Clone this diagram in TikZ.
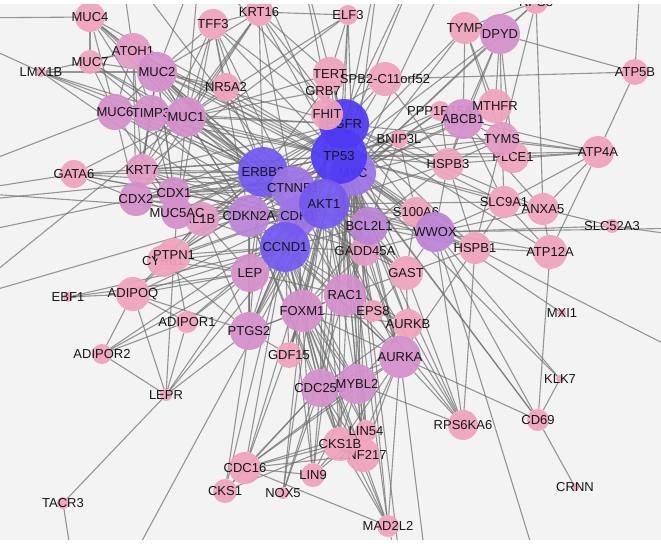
\documentclass[tikz,border=0pt]{standalone}
\usepackage{fontspec}
\setmainfont{Liberation Sans}
\pgfdeclarelayer{bg}\pgfdeclarelayer{fg}\pgfsetlayers{bg,main,fg}
\definecolor{pk}{HTML}{EFA3BC}
\definecolor{pm}{HTML}{E39AC4}
\definecolor{mv}{HTML}{D48FCB}
\definecolor{vi}{HTML}{BC84D8}
\definecolor{pu}{HTML}{9C74E6}
\definecolor{ind}{HTML}{7458F0}
\definecolor{bl}{HTML}{4F3AF5}
\definecolor{bgc}{HTML}{F3F3F3}
\definecolor{ec}{HTML}{707070}
\definecolor{txt}{HTML}{161616}
\tikzset{
 gnode/.style={circle, inner sep=0pt, draw=none, fill opacity=0.93},
 lbl/.style={font=\fontsize{13}{13}\selectfont, text=txt, inner sep=0pt, fill opacity=1, text opacity=1},
 edge/.style={draw=ec, line width=1.1pt, opacity=0.72},
}
\newcommand\gn[6]{\node[gnode, fill=#5, minimum size={2*#4*1pt}, label={[lbl]center:#6}] (#1) at (#2,#3) {};}
\begin{document}
\begin{tikzpicture}[x=1pt,y=-1pt]
\useasboundingbox (0,0) rectangle (661,553);
% peripheral nodes
\gn{muc4}{90}{17}{15}{pk}{MUC4}
\gn{muc7}{90}{62}{12}{pk}{MUC7}
\gn{lmx1b}{41}{72}{5}{pk}{LMX1B}
\gn{tff3}{213}{24}{15}{pk}{TFF3}
\gn{krt16}{259}{12}{14}{pk}{KRT16}
\gn{elf3}{348}{15}{10}{pk}{ELF3}
\gn{rps3}{536}{2}{12}{pk}{RPS3}
\gn{tymp}{465}{28}{16}{pk}{TYMP}
\gn{dpyd}{500}{34}{20}{mv}{DPYD}
\gn{atp5b}{635}{72}{13}{pk}{ATP5B}
\gn{nr5a2}{226}{87}{14}{pk}{NR5A2}
\gn{atoh1}{133}{51}{18}{pm}{ATOH1}
\gn{muc2}{157}{72}{20}{mv}{MUC2}
\gn{muc6}{115}{112}{18}{mv}{MUC6}
\gn{timp3}{151}{113}{18}{mv}{TIMP3}
\gn{muc1}{186}{117}{20}{mv}{MUC1}
\gn{tert}{330}{74}{17}{pk}{TERT}
\gn{spb2}{385}{79}{17}{pk}{SPB2-C11orf52}
\gn{grb7}{323}{91}{8}{pk}{GRB7}
\gn{ppp1r}{440}{111}{10}{pk}{PPP1R15A}
\gn{abcb1}{463}{119}{20}{mv}{ABCB1}
\gn{mthfr}{495}{106}{17}{pk}{MTHFR}
\gn{plce1}{513}{157}{16}{pk}{PLCE1}
\gn{tyms}{502}{139}{17}{pm}{TYMS}
\gn{hspb3}{448}{164}{16}{pk}{HSPB3}
\gn{atp4a}{598}{152}{16}{pk}{ATP4A}
\gn{bnip3l}{399}{139}{9}{pk}{BNIP3L}
\gn{gata6}{74}{174}{14}{pk}{GATA6}
\gn{krt7}{142}{170}{16}{pm}{KRT7}
\gn{cdx2}{136}{199}{17}{mv}{CDX2}
\gn{cdx1}{174}{193}{16}{mv}{CDX1}
\gn{il1b}{202}{219}{17}{pm}{IL1B}
\gn{muc5ac}{177}{213}{16}{mv}{MUC5AC}
\gn{cyr61}{163}{261}{16}{pk}{CYR61}
\gn{ptpn1}{174}{255}{17}{pk}{PTPN1}
\gn{slc9a1}{504}{202}{16}{pk}{SLC9A1}
\gn{anxa5}{543}{209}{16}{pk}{ANXA5}
\gn{slc52a3}{612}{226}{7}{pk}{SLC52A3}
\gn{atp12a}{550}{252}{17}{pk}{ATP12A}
\gn{hspb1}{475}{248}{16}{pk}{HSPB1}
\gn{s100a6}{416}{212}{15}{pk}{S100A6}
\gn{wwox}{435}{232}{20}{vi}{WWOX}
\gn{ebf1}{68}{297}{5}{pk}{EBF1}
\gn{adipoq}{133}{294}{17}{pk}{ADIPOQ}
\gn{adipor1}{187}{322}{11}{pk}{ADIPOR1}
\gn{adipor2}{102}{354}{10}{pk}{ADIPOR2}
\gn{lep}{250}{273}{19}{mv}{LEP}
\gn{gast}{406}{273}{17}{pk}{GAST}
\gn{gadd45a}{365}{251}{15}{pm}{GADD45A}
\gn{bcl2l1}{369}{226}{19}{vi}{BCL2L1}
\gn{foxm1}{302}{311}{21}{mv}{FOXM1}
\gn{rac1}{345}{295}{21}{mv}{RAC1}
\gn{eps8}{373}{311}{11}{pk}{EPS8}
\gn{aurkb}{408}{324}{15}{pk}{AURKB}
\gn{ptgs2}{249}{331}{19}{mv}{PTGS2}
\gn{gdf15}{289}{355}{13}{pk}{GDF15}
\gn{aurka}{400}{357}{21}{mv}{AURKA}
\gn{cdc25b}{320}{388}{19}{mv}{CDC25B}
\gn{mybl2}{357}{384}{20}{mv}{MYBL2}
\gn{mxi1}{562}{313}{4}{pk}{MXI1}
\gn{klk7}{560}{379}{4}{pk}{KLK7}
\gn{lepr}{166}{395}{6}{pk}{LEPR}
\gn{cd69}{538}{420}{11}{pk}{CD69}
\gn{rps6ka6}{463}{425}{15}{pk}{RPS6KA6}
\gn{znf217}{363}{455}{17}{pk}{ZNF217}
\gn{cks1b}{340}{444}{17}{pk}{CKS1B}
\gn{lin54}{366}{431}{11}{pk}{LIN54}
\gn{lin9}{313}{475}{12}{pk}{LIN9}
\gn{cdc16}{245}{468}{16}{pk}{CDC16}
\gn{cks1}{225}{491}{12}{pk}{CKS1}
\gn{nox5}{283}{493}{6}{pk}{NOX5}
\gn{mad2l2}{388}{526}{11}{pk}{MAD2L2}
\gn{tacr3}{63}{503}{6}{pk}{TACR3}
\gn{crnn}{575}{487}{4}{pk}{CRNN}
% hubs
\gn{cdkn2a}{249}{216}{21}{vi}{CDKN2A}
\gn{erbb2}{263}{172}{25}{ind}{ERBB2}
\gn{ctnnb1}{293}{188}{22}{pu}{CTNNB1}
\gn{cdh1}{298}{216}{20}{pu}{CDH1}
\gn{ccnd1}{285}{247}{25}{ind}{CCND1}
\gn{myc}{353}{173}{23}{pu}{MYC}
\gn{egfr}{344}{124}{25}{bl}{EGFR}
\gn{tp53}{339}{156}{28}{bl}{TP53}
\gn{fhit}{327}{114}{16}{pk}{FHIT}
\gn{akt1}{324}{204}{25}{ind}{AKT1}
% free ends outside the frame
\coordinate (l1) at (-40,18);
\coordinate (l2) at (-40,35);
\coordinate (l3) at (-40,172);
\coordinate (l4) at (-40,192);
\coordinate (l5) at (-40,202);
\coordinate (l6) at (-40,236);
\coordinate (l7) at (-40,300);
\coordinate (t1) at (120,-40);
\coordinate (t2) at (200,-40);
\coordinate (t3) at (250,-40);
\coordinate (t4) at (300,-40);
\coordinate (t5) at (380,-40);
\coordinate (t6) at (420,-40);
\coordinate (t7) at (455,-40);
\coordinate (t8) at (560,-40);
\coordinate (t9) at (641,-40);
\coordinate (r1) at (700,238);
\coordinate (r2) at (700,362);
\coordinate (r3) at (700,228);
\coordinate (b1) at (75,580);
\coordinate (b2) at (110,600);
\coordinate (b3) at (402,580);
\coordinate (b4) at (428,580);
\coordinate (b5) at (542,580);
\begin{pgfonlayer}{bg}
\fill[bgc] (0,4) rectangle (661,540);
\clip (0,4) rectangle (661,540);
\foreach \h/\lst in {
 tp53/{egfr,myc,akt1,erbb2,ctnnb1,ccnd1,cdh1,cdkn2a,bcl2l1,gadd45a,muc1,muc2,timp3,krt7,cdx2,cdx1,il1b,lep,ptgs2,foxm1,rac1,aurka,aurkb,mybl2,cdc25b,wwox,s100a6,hspb1,hspb3,gast,tert,fhit,bnip3l,abcb1,tyms,mthfr,dpyd,tymp,ppp1r,plce1,slc9a1,anxa5,cks1b,znf217,rps6ka6,gdf15,ptpn1,cyr61,nr5a2,tff3,krt16,elf3,atoh1,muc6,muc4,gata6,atp4a,cd69,eps8,lin54,cdc16,mad2l2,spb2,t3,t4,t5,t6},
 akt1/{egfr,myc,erbb2,ctnnb1,ccnd1,cdh1,cdkn2a,bcl2l1,gadd45a,lep,ptgs2,foxm1,rac1,adipoq,adipor1,adipor2,lepr,ptpn1,il1b,cyr61,muc1,timp3,hspb1,wwox,gast,aurka,mybl2,cdc25b,gdf15,eps8,rps6ka6,cks1b,tert,fhit,bnip3l,s100a6,grb7,b2,hspb3,slc9a1,nox5},
 egfr/{erbb2,myc,ctnnb1,ccnd1,cdh1,cdkn2a,grb7,tert,fhit,eps8,muc1,muc2,krt7,krt16,elf3,ptgs2,gast,ptpn1,slc9a1,anxa5,bcl2l1,rac1,il1b,s100a6,hspb1,cdx2,muc5ac,timp3,atp4a,atp12a,tff3,t2,t4,spb2},
 myc/{ctnnb1,ccnd1,cdkn2a,erbb2,tert,foxm1,mybl2,aurka,aurkb,cdc25b,znf217,lin54,lin9,cks1b,mad2l2,mxi1,gadd45a,bcl2l1,hspb1,tyms,mthfr,dpyd,tymp,abcb1,rps3,elf3,muc2,atoh1,cdx2,cdx1,wwox,bnip3l,ppp1r,klk7,cd69,b3,t5,t7},
 erbb2/{ctnnb1,ccnd1,cdh1,cdkn2a,grb7,muc1,muc4,muc2,muc6,muc5ac,krt7,cdx2,tff3,gata6,krt16,nr5a2,ptgs2,lep,ptpn1,gast,il1b,timp3,atoh1,muc7,lmx1b,l5},
 ctnnb1/{ccnd1,cdh1,cdkn2a,cdx1,cdx2,muc2,muc1,timp3,atoh1,foxm1,il1b,lep,ptgs2,rac1,krt7,muc5ac,gast,tff3,gata6,krt16,bcl2l1,wwox,t1},
 ccnd1/{cdkn2a,cdh1,foxm1,lep,ptgs2,mybl2,cdc25b,aurka,gadd45a,bcl2l1,rac1,cks1b,cdc16,lin9,cyr61,ptpn1,il1b,adipoq,gdf15,ebf1,cks1,lin54,znf217,aurkb},
 cdh1/{cdkn2a,muc5ac,muc2,muc1,cdx2,cdx1,krt7,timp3,muc6,gata6,il1b,ptgs2,lep,rac1,foxm1,gast,s100a6,l4,t6},
 cdkn2a/{timp3,muc1,muc2,mybl2,foxm1,cdc25b,aurka,cks1b,ptgs2,lep,gadd45a,krt7,cdx2,tff3,lmx1b,l7},
 muc4/{muc7,atoh1,muc2,muc1,muc6,l1,timp3},
 muc7/{muc2,muc6,muc1,atoh1,timp3},
 atoh1/{muc2,cdx2,muc6,timp3,muc1,t1,krt7},
 muc2/{muc6,muc1,timp3,tff3,muc5ac,cdx2,cdx1,lmx1b,krt7,nr5a2,krt16,t2},
 muc6/{timp3,muc1,muc5ac,l3,cdx2},
 timp3/{muc1,muc5ac,krt7},
 muc1/{muc5ac,tff3,nr5a2,krt16,elf3,tert,grb7,l7,t2},
 lmx1b/{l2,atoh1,timp3,muc1},
 krt7/{cdx2,cdx1,muc5ac,tff3,krt16,elf3},
 cdx2/{cdx1,muc5ac,gata6,l6},
 cdx1/{muc5ac,gata6},
 muc5ac/{tff3,il1b,ptpn1},
 gata6/{l4,muc1},
 bcl2l1/{gadd45a,wwox,rac1,foxm1,s100a6,gast,hspb1,aurka,bnip3l,hspb3},
 gadd45a/{foxm1,aurka,mybl2,wwox,rac1},
 foxm1/{mybl2,aurka,aurkb,cdc25b,cks1b,lin54,lin9,cdc16,znf217,mad2l2,gdf15,ptgs2,rac1,nox5},
 rac1/{eps8,gast,aurka,aurkb,ptgs2,lep,nox5},
 aurka/{aurkb,mybl2,cdc25b,cks1b,znf217,cdc16,mad2l2,rps6ka6,cd69,lin54,b4},
 aurkb/{mybl2,cdc25b,rps6ka6,gast,eps8},
 mybl2/{cdc25b,lin54,lin9,cks1b,cdc16,znf217,rps6ka6},
 cdc25b/{cks1b,cks1,cdc16,lin9,znf217,mad2l2,nox5},
 cdc16/{cks1,cks1b,znf217,lin9,lin54,mad2l2},
 cks1b/{znf217,lin54,mad2l2,lin9,cks1},
 znf217/{mad2l2,lin54},
 lin9/{lin54},
 mad2l2/{b3},
 gdf15/{ptgs2,foxm1},
 ptgs2/{lep,il1b,adipoq,lepr,cks1},
 lep/{adipoq,adipor1,adipor2,lepr,ptpn1,il1b,cyr61,ebf1},
 adipoq/{ebf1,adipor1,adipor2,ptpn1,lepr,il1b},
 adipor1/{adipor2,lepr,ptpn1},
 adipor2/{lepr},
 lepr/{tacr3,ptpn1},
 tacr3/{b1},
 ptpn1/{cyr61,il1b},
 cyr61/{il1b,ptgs2},
 hspb1/{wwox,hspb3,gast,slc9a1,r2,atp12a,rps6ka6,aurka},
 wwox/{s100a6,hspb3,slc52a3,gast,cd69,klk7,rps6ka6,slc9a1,anxa5,atp12a,b5,r3},
 slc52a3/{r1,anxa5},
 atp12a/{atp4a,cd69,slc9a1,anxa5},
 atp4a/{plce1,tyms,hspb3,atp5b,slc9a1,anxa5,abcb1},
 atp5b/{dpyd,spb2,t9},
 dpyd/{tymp,tyms,mthfr,abcb1,rps3,plce1,hspb3},
 tymp/{tyms,mthfr,abcb1,rps3},
 tyms/{mthfr,plce1,abcb1,hspb3,slc9a1},
 mthfr/{abcb1,plce1},
 abcb1/{ppp1r,hspb3,slc9a1,anxa5},
 rps3/{anxa5,hspb1,t8},
 ppp1r/{bnip3l,hspb3},
 bnip3l/{hspb3,s100a6},
 spb2/{tert,fhit,hspb3},
 tert/{fhit,grb7,krt16,elf3},
 elf3/{krt16},
 krt16/{tff3,cdx2},
 nr5a2/{tff3},
 gast/{eps8,rps6ka6,s100a6},
 eps8/{rps6ka6},
 cd69/{crnn,klk7}}
 {\foreach \t in \lst {\draw[edge] (\h) -- (\t);}}
\end{pgfonlayer}
\begin{pgfonlayer}{fg}
\fill[white] (-2,-40) rectangle (663,4);
\fill[white] (-2,540) rectangle (663,560);
\end{pgfonlayer}
\end{tikzpicture}
\end{document}
